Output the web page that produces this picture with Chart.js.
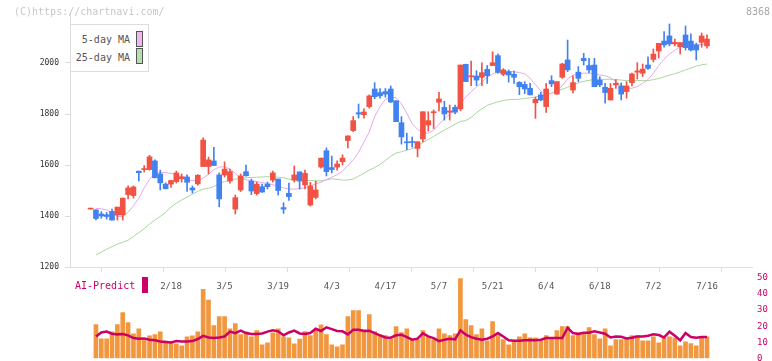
<html lang="ja">
<head>
<meta charset="UTF-8">
<title>8368</title>
<style>
    body { margin: 0; background: #ffffff; }
    #wrap { position: relative; width: 772px; height: 361px; overflow: hidden; font-family: "DejaVu Sans Mono", monospace; }
    canvas { position: absolute; left: 0; top: 0; }
    .txt { position: absolute; font-size: 10px; line-height: 12px; white-space: nowrap; }
    #copy { left: 14px; top: 6px; color: #c8c8c8; }
    #code { left: 746px; top: 6px; color: #a8a8a8; }
    #legend { position: absolute; left: 70px; top: 24px; width: 79px; height: 48px; box-sizing: border-box;
              border: 1px solid #dddddd; background: #ffffff; }
    .lg { position: absolute; right: 18px; font-size: 10px; line-height: 12px; color: #555555; }
    .sw { position: absolute; left: 65px; width: 5px; height: 14px; border: 1px solid #555555; }
    #ai { left: 75px; top: 280px; color: #cc0066; }
    #aisw { position: absolute; left: 142px; top: 277px; width: 6px; height: 16px; background: #cc0066; }
</style>
</head>
<body>
<div id="wrap">
    <canvas id="priceChart" width="772" height="300"></canvas>
    <canvas id="volChart" width="772" height="361"></canvas>
    <div class="txt" id="copy">(C)https://chartnavi.com/</div>
    <div class="txt" id="code">8368</div>
    <div id="legend">
        <div class="lg" style="top:9px">5-day MA</div>
        <div class="sw" style="top:6px; background:#f0b6f0"></div>
        <div class="lg" style="top:27px">25-day MA</div>
        <div class="sw" style="top:23px; background:#b6deae"></div>
    </div>
    <div class="txt" id="ai">AI-Predict</div>
    <div id="aisw"></div>
</div>

<script src="https://cdn.jsdelivr.net/npm/chart.js"></script>
<script>
// date ticks sit on candle index 15, 25, ... 115
const tickLabels = ["2/18", "3/5", "3/19", "4/3", "4/17", "5/7", "5/21", "6/4", "6/18", "7/2", "7/16"];
const tickIndex = [15, 25, 35, 45, 55, 65, 75, 85, 95, 105, 115];
const priceTicks = [1200, 1400, 1600, 1800, 2000];

const opens = [1427,1424,1408,1405,1418,1404,1404,1484,1480,1576,
    1582,1582,1616,1565,1525,1525,1535,1546,1553,1510,
    1526,1594,1594,1616,1561,1561,1537,1427,1502,1574,
    1537,1488,1515,1525,1541,1545,1433,1489,1541,1573,
    1522,1443,1473,1592,1656,1590,1592,1613,1696,1735,
    1805,1797,1829,1898,1884,1888,1898,1852,1766,1691,
    1692,1665,1702,1757,1805,1846,1826,1807,1826,1820,
    1995,1946,1949,1944,1975,1990,2029,1956,1966,1956,
    1924,1916,1901,1844,1875,1829,1931,1878,1944,2012,
    1894,1964,2018,1990,1992,1933,1905,1855,1914,1910,
    1888,1923,1964,1960,1992,2014,2047,2086,2106,2075,
    2064,2110,2086,2071,2081,2067];
const highs = [1427,1424,1417,1414,1427,1435,1471,1518,1518,1576,
    1598,1638,1620,1580,1530,1540,1576,1565,1561,1518,
    1562,1707,1631,1669,1569,1612,1584,1482,1565,1600,
    1545,1533,1525,1533,1576,1545,1452,1529,1596,1573,
    1580,1532,1537,1627,1667,1635,1616,1640,1714,1790,
    1839,1820,1875,1923,1900,1900,1910,1852,1790,1725,
    1710,1692,1809,1809,1816,1885,1850,1835,1835,1992,
    1995,2008,1970,2001,1990,2044,2036,1978,1973,1968,
    1927,1927,1920,1866,1885,1920,1950,1927,1999,2090,
    1950,1986,2038,2018,2018,1946,1920,1920,1935,1922,
    1927,1960,2001,1996,2024,2055,2077,2123,2153,2094,
    2080,2145,2114,2078,2118,2110];
const lows = [1427,1385,1391,1388,1384,1384,1384,1467,1470,1537,
    1572,1580,1549,1502,1506,1512,1529,1533,1496,1490,
    1521,1594,1565,1597,1436,1553,1529,1408,1496,1556,
    1484,1482,1492,1506,1533,1482,1410,1461,1533,1506,
    1506,1439,1467,1588,1557,1569,1580,1600,1667,1731,
    1784,1784,1823,1860,1862,1866,1845,1770,1682,1660,
    1670,1632,1691,1733,1743,1812,1776,1776,1800,1813,
    1927,1911,1911,1911,1920,1990,1960,1950,1925,1920,
    1876,1880,1875,1783,1852,1806,1907,1878,1940,1966,
    1883,1927,1992,1962,1907,1907,1842,1855,1900,1855,
    1862,1910,1937,1947,1975,2004,2020,2062,2067,2067,
    2035,2051,2047,2012,2062,2058];
const closes = [1427,1390,1400,1398,1384,1435,1470,1510,1514,1570,
    1584,1632,1550,1530,1507,1539,1569,1554,1532,1502,
    1560,1698,1620,1598,1467,1584,1574,1472,1557,1558,
    1498,1525,1494,1515,1569,1500,1427,1476,1561,1537,
    1567,1518,1502,1627,1574,1582,1604,1627,1714,1774,
    1800,1808,1871,1868,1871,1878,1847,1770,1710,1687,
    1688,1691,1809,1774,1809,1859,1800,1812,1807,1992,
    1927,1950,1933,1962,1950,2001,1963,1973,1953,1944,
    1907,1898,1875,1858,1855,1898,1918,1927,1996,1973,
    1923,1940,2009,1973,1907,1914,1884,1901,1920,1878,
    1910,1957,1969,1976,1979,2035,2077,2071,2075,2081,
    2080,2060,2051,2051,2106,2094];

const ma5 = [null,1430,1428,1424,1413,1398,1398,1415,1440,1470,
    1510,1544,1566,1571,1570,1567,1562,1555,1541,1539,
    1539,1548,1564,1582,1592,1593,1584,1568,1548,1542,
    1538,1535,1531,1528,1523,1516,1510,1506,1505,1507,
    1511,1518,1526,1533,1543,1552,1562,1576,1598,1620,
    1650,1690,1730,1790,1829,1858,1866,1864,1840,1803,
    1762,1740,1728,1724,1737,1760,1780,1800,1822,1842,
    1866,1888,1905,1925,1945,1957,1964,1966,1966,1966,
    1962,1958,1940,1915,1890,1879,1880,1894,1910,1938,
    1952,1958,1960,1960,1958,1953,1950,1942,1928,1912,
    1901,1901,1908,1920,1935,1960,1990,2015,2035,2050,
    2064,2073,2074,2071,2073,2075];
const ma25 = [null,1247,1258,1270,1280,1290,1297,1305,1320,1335,
    1350,1368,1384,1398,1415,1435,1450,1463,1474,1486,
    1497,1505,1509,1515,1528,1535,1540,1545,1548,1550,
    1551,1552,1553,1554,1554,1552,1550,1545,1541,1541,
    1540,1539,1538,1538,1541,1546,1544,1541,1541,1545,
    1556,1568,1580,1590,1602,1618,1634,1647,1652,1658,
    1664,1675,1688,1700,1712,1725,1737,1748,1760,1771,
    1774,1787,1805,1820,1834,1841,1848,1853,1856,1857,
    1858,1861,1863,1867,1871,1875,1882,1890,1897,1905,
    1914,1922,1928,1932,1935,1936,1936,1936,1935,1933,
    1931,1931,1931,1931,1931,1935,1939,1946,1952,1958,
    1965,1973,1980,1988,1993,1996];

const volumes = [null,21,12.2,12.2,16.5,21,28.4,22.2,15.3,18.4,
    11.6,14,14.7,16.5,10.9,9.7,9,7.8,13.4,14,
    16.5,43,36.2,20.3,25.9,25.9,18.4,21.6,14.7,16.5,
    13.4,17.2,8.4,9.7,15.9,18.4,13.4,12.8,9,12,
    16.6,14.1,17.8,20.9,14.7,8.4,7.2,8.4,25.9,29.7,
    29.7,17.8,27.2,16.6,14.7,14.1,12.2,19.7,16,18.4,
    11.6,11.6,17.2,13.4,11.6,18.4,15.3,14.1,15.3,49.7,
    24.1,20.3,14.7,18.4,10.9,22.8,14.1,11.6,8.4,10.3,
    13.4,15.3,12.8,12.8,10.9,14.1,12.2,17.2,19.7,19.7,
    14.1,16,15.3,19.1,14.7,12.2,18.4,7.8,11.6,11.6,
    12.2,14.1,14.1,10.9,10.9,13.4,9.7,12.8,13.4,12.8,
    7.8,10.3,9.1,7.8,12.8,13.4];
const aiPredict = [null,13.6,16.1,16.7,15.3,14.9,15.1,14.3,12.6,12.2,
    12.4,11.6,11.2,10.5,10.1,9.9,10.7,10.5,10.5,10.7,
    12,14,13,12.6,13,13.6,16.6,15.7,17.2,15.7,
    15.1,15.1,15.5,16.6,17.4,16.8,14.3,16.1,17.2,15.5,
    15.2,15.7,18.4,17,19.3,18.2,17,16.8,14.9,17.8,
    17.8,17,17.2,15.7,14.3,13,12.8,14.3,14.7,13.2,
    11.6,12.2,15.5,13.6,12.6,10.7,11.6,12.2,11.8,17.4,
    14.7,13.2,12.2,11.6,12.2,13.6,15.7,13.6,11.2,11,
    11,11.2,11.4,11.2,11.6,12.6,12.6,12.6,12.6,19,
    15.7,15.1,15.9,15.9,16.8,16.1,15.3,13,13.6,13.4,
    12.4,12.8,13.6,13.6,14.1,14.9,14.5,13,16.6,14.1,
    11.2,15.7,13.2,12.8,13.2,13.2];

const RED = '#f25244';
const BLUE = '#4282f0';
const FONT = "'DejaVu Sans Mono', monospace";

// x range of the plot area (candle index units)
const xMin = -3.84;
const xMax = 123.4;
const gridTicks = [];
for (let k = 0; k <= 11; k++) gridTicks.push(xMin + k * (xMax - xMin) / 11);

const candleColors = closes.map((c, i) => c >= opens[i] ? RED : BLUE);
const toPoints = arr => arr.map((v, i) => ({ x: i, y: v })).filter(p => p.y !== null);

// keep the plot area exactly where the layout padding puts it
function noLabelPadding(s) {
    s.paddingTop = 0;
    s.paddingBottom = 0;
}

new Chart(document.getElementById('priceChart').getContext('2d'), {
    type: 'bar',
    data: {
        datasets: [
            {
                type: 'line', label: '25-day MA', data: toPoints(ma25),
                borderColor: '#a9d69e', borderWidth: 1, pointRadius: 0, order: 4
            },
            {
                type: 'line', label: '5-day MA', data: toPoints(ma5),
                borderColor: '#e8a8e8', borderWidth: 1, pointRadius: 0, order: 3
            },
            {
                label: 'wick', data: lows.map((l, i) => ({ x: i, y: [l, highs[i]] })),
                backgroundColor: candleColors, barThickness: 1, minBarLength: 1,
                grouped: false, order: 2
            },
            {
                label: 'body', data: opens.map((o, i) => ({ x: i, y: [o, closes[i]] })),
                backgroundColor: candleColors, barThickness: 5, minBarLength: 1,
                grouped: false, order: 1
            }
        ]
    },
    options: {
        responsive: false,
        animation: false,
        devicePixelRatio: 1,
        layout: { padding: { top: 12, right: 20, left: 0, bottom: 0 } },
        plugins: { legend: { display: false }, tooltip: { enabled: false } },
        scales: {
            x: {
                type: 'linear', min: xMin, max: xMax, offset: false,
                afterBuildTicks: s => { s.ticks = gridTicks.map(v => ({ value: v })); },
                ticks: { display: false },
                grid: { drawOnChartArea: false, tickLength: 5, color: '#dddddd' },
                border: { color: '#dddddd' },
                afterFit: s => { s.height = 5; }
            },
            x2: {
                type: 'linear', position: 'bottom', min: xMin, max: xMax, offset: false,
                afterBuildTicks: s => { s.ticks = tickIndex.map(v => ({ value: v })); },
                ticks: {
                    autoSkip: false, maxRotation: 0, padding: 9, color: '#555555',
                    font: { family: FONT, size: 9 },
                    callback: v => tickLabels[tickIndex.indexOf(v)]
                },
                grid: { display: false, drawTicks: false },
                border: { display: false },
                afterFit: s => { s.height = 28; }
            },
            y: {
                min: 1200, max: 2200,
                afterBuildTicks: s => { s.ticks = priceTicks.map(v => ({ value: v })); },
                ticks: {
                    padding: 6, color: '#333333', font: { family: FONT, size: 8 },
                    callback: v => String(v)
                },
                grid: { drawOnChartArea: false, tickLength: 5, color: '#dddddd' },
                border: { color: '#dddddd' },
                afterFit: s => { s.width = 70; noLabelPadding(s); }
            }
        }
    }
});

new Chart(document.getElementById('volChart').getContext('2d'), {
    type: 'bar',
    data: {
        datasets: [
            {
                type: 'line', label: 'AI-Predict', data: toPoints(aiPredict),
                borderColor: '#cc0066', borderWidth: 2.5, pointRadius: 0, order: 0
            },
            {
                label: 'volume', data: toPoints(volumes),
                backgroundColor: '#f1973f', barThickness: 4, grouped: false, order: 1
            }
        ]
    },
    options: {
        responsive: false,
        animation: false,
        devicePixelRatio: 1,
        layout: { padding: { top: 278, left: 70, right: 0, bottom: 2.7 } },
        plugins: { legend: { display: false }, tooltip: { enabled: false } },
        scales: {
            x: { type: 'linear', min: xMin, max: xMax, offset: false, display: false },
            y: {
                position: 'right', min: 0, max: 50,
                ticks: { stepSize: 10, padding: 5, color: '#cc0066', font: { family: FONT, size: 9 } },
                grid: { display: false, drawTicks: false },
                border: { display: false },
                afterFit: s => { s.width = 20; noLabelPadding(s); }
            }
        }
    }
});
</script>
</body>
</html>
